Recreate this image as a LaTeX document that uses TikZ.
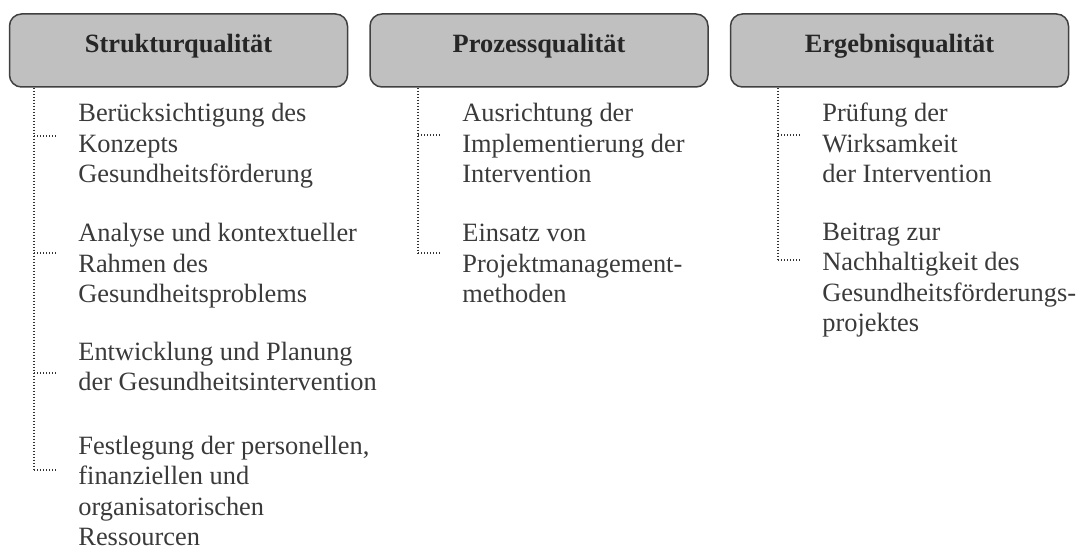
\documentclass[tikz,border=0pt]{standalone}
\usepackage{fontspec}
\setmainfont{Liberation Serif}
\usetikzlibrary{positioning}
\definecolor{headfill}{RGB}{192,192,192}
\definecolor{headline}{RGB}{64,64,64}
\definecolor{textgray}{RGB}{58,58,58}
\tikzset{
  head/.style={draw=headline, line width=0.75pt, fill=headfill, rounded corners=6pt,
    minimum width=169pt, inner xsep=0pt, inner ysep=0pt, text height=19.5pt, text depth=17pt,
    text=black!85, font=\fontsize{13.2pt}{15.25pt}\selectfont\bfseries},
  item/.style={anchor=base west, align=left, inner sep=0pt, text=textgray,
    font=\fontsize{13.2pt}{15.25pt}\selectfont},
  dots/.style={draw=black!80, line width=0.9pt, dash pattern=on 0.7pt off 0.8pt},
}
\begin{document}
\begin{tikzpicture}[x=0.5pt,y=-0.5pt]
      \useasboundingbox (0,0) rectangle (1080,549);
      % base = baseline of the last line
      \node[head] (struktur) at (178.5,50.5) {Strukturqualität};
      \node[head, right=10.5pt of struktur] (prozess) {Prozessqualität};
      \node[head, right=10.5pt of prozess] (ergebnis) {Ergebnisqualität};
      \node[item] (s1) at (78,183) {Berücksichtigung des\\Konzepts\\Gesundheitsförderung};
      \node[item] (s2) at (78,303) {Analyse und kontextueller\\Rahmen des\\Gesundheitsproblems};
      \node[item] (s3) at (78,391) {Entwicklung und Planung\\der Gesundheitsintervention};
      \node[item] (s4) at (78,545.5) {Festlegung der personellen,\\finanziellen und\\organisatorischen\\Ressourcen};
      \node[item] (p1) at (462,183) {Ausrichtung der\\Implementierung der\\Intervention};
      \node[item] (p2) at (462,303) {Einsatz von\\Projektmanagement-\\methoden};
      \node[item] (e1) at (822,183) {Prüfung der\\Wirksamkeit\\der Intervention};
      \node[item] (e2) at (822,332) {Beitrag zur\\Nachhaltigkeit des\\Gesundheitsförderungs-\\projektes};
      \coordinate (s1k) at (34,136);
      \coordinate (s2k) at (34,253);
      \coordinate (s3k) at (34,373);
      \coordinate (s4k) at (34,470);
      \coordinate (p1k) at (418,135);
      \coordinate (p2k) at (418,253);
      \coordinate (e1k) at (778,135);
      \coordinate (e2k) at (778,260);
      \begin{scope}[dots]
        \draw (struktur.south -| s1k) to (s4k);
        \draw (prozess.south -| p1k) to (p2k);
        \draw (ergebnis.south -| e1k) to (e2k);
        \draw[shorten >=10.5pt] (s1k) to (s1k -| s1.west);
        \draw[shorten >=10.5pt] (s2k) to (s2k -| s2.west);
        \draw[shorten >=10.5pt] (s3k) to (s3k -| s3.west);
        \draw[shorten >=10.5pt] (s4k) to (s4k -| s4.west);
        \draw[shorten >=10.5pt] (p1k) to (p1k -| p1.west);
        \draw[shorten >=10.5pt] (p2k) to (p2k -| p2.west);
        \draw[shorten >=10.5pt] (e1k) to (e1k -| e1.west);
        \draw[shorten >=10.5pt] (e2k) to (e2k -| e2.west);
      \end{scope}
    \end{tikzpicture}
\end{document}
